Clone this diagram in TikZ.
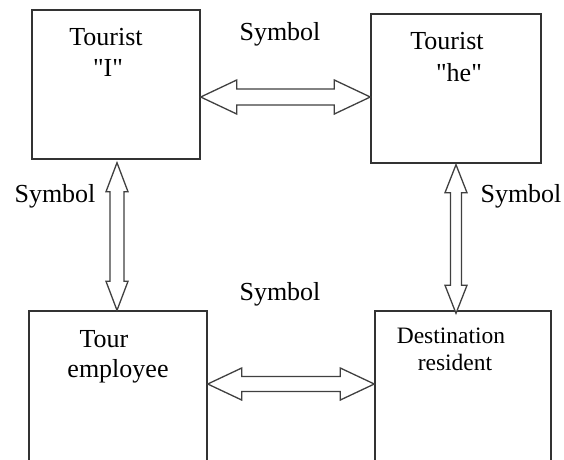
\documentclass[tikz,border=0pt]{standalone}
\usepackage{fontspec}
\setmainfont{Liberation Serif}[Ligatures=TeXOff]
\usetikzlibrary{calc}
\tikzset{
  box/.style={draw=black!80, line width=1.4pt, inner sep=0pt, fill=none},
  lbl/.style={inner sep=0pt, anchor=base, font=\fontsize{26}{30}\selectfont},
  slbl/.style={inner sep=0pt, anchor=base, font=\fontsize{23.5}{27}\selectfont},
  fat/.style={draw=black!75, line width=1.3pt, fill=white, line join=miter}
}
% horizontal double arrow: #1 left tip, #2 right tip, #3 head length, #4 head half width, #5 shaft half width
\newcommand{\fatharrow}[5]{%
  \draw[fat] (#1) -- ($(#1)+(#3,-#4)$) -- ($(#1)+(#3,-#5)$) -- ($(#2)+(-#3,-#5)$) -- ($(#2)+(-#3,-#4)$)
    -- (#2) -- ($(#2)+(-#3,#4)$) -- ($(#2)+(-#3,#5)$) -- ($(#1)+(#3,#5)$) -- ($(#1)+(#3,#4)$) -- cycle;}
% vertical double arrow: #1 top tip, #2 bottom tip
\newcommand{\fatvarrow}[5]{%
  \draw[fat] (#1) -- ($(#1)+(#4,#3)$) -- ($(#1)+(#5,#3)$) -- ($(#2)+(#5,-#3)$) -- ($(#2)+(#4,-#3)$)
    -- (#2) -- ($(#2)+(-#4,-#3)$) -- ($(#2)+(-#5,-#3)$) -- ($(#1)+(-#5,#3)$) -- ($(#1)+(-#4,#3)$) -- cycle;}
\begin{document}
\begin{tikzpicture}[x=1pt,y=-1pt]
\clip (0,0) rectangle (564,459);
\fill[white] (0,0) rectangle (564,459);
% boxes
\node[box, minimum width=168pt, minimum height=149pt] (tl) at (116,84.5) {};
\node[box, minimum width=170pt, minimum height=149pt] (tr) at (456,88.5) {};
\node[box, minimum width=178pt, minimum height=159pt] (bl) at (118,390.5) {};
\node[box, minimum width=176pt, minimum height=159pt] (br) at (463,390.5) {};
% box texts
\node[lbl] (t1a) at (106,45) {Tourist};
\node[lbl] (t1b) at (108,76) {"I"};
\node[lbl] (t2a) at (447,49) {Tourist};
\node[lbl] (t2b) at (459,81) {"he"};
\node[lbl] (t3a) at (104,347) {Tour};
\node[lbl] (t3b) at (118,377) {employee};
\node[slbl] (t4a) at (451,343) {Destination};
\node[slbl] (t4b) at (455,370) {resident};
% arrow tips
\coordinate (h1l) at ($(tl.east)+(0,12.5)$);
\coordinate (h1r) at ($(tr.west)+(0,8.5)$);
\coordinate (h2l) at ($(bl.east)+(0,-6.5)$);
\coordinate (h2r) at ($(br.west)+(0,-6.5)$);
\coordinate (v1t) at ($(tl.south)+(1,3)$);
\coordinate (v1b) at ($(bl.north)+(-1,0)$);
\coordinate (v2t) at ($(tr.south)+(0,1)$);
\coordinate (v2b) at ($(br.north)+(-7,3)$);
% arrows
\fatharrow{h1l}{h1r}{36}{17}{8}
\fatharrow{h2l}{h2r}{34}{16}{7.5}
\fatvarrow{v1t}{v1b}{29}{11}{7}
\fatvarrow{v2t}{v2b}{28}{11}{5.5}
% symbol labels
\node[lbl] (s1) at (280,40) {Symbol};
\node[lbl] (s2) at (55,202) {Symbol};
\node[lbl] (s3) at (521,202) {Symbol};
\node[lbl] (s4) at (280,300) {Symbol};
\end{tikzpicture}
\end{document}
